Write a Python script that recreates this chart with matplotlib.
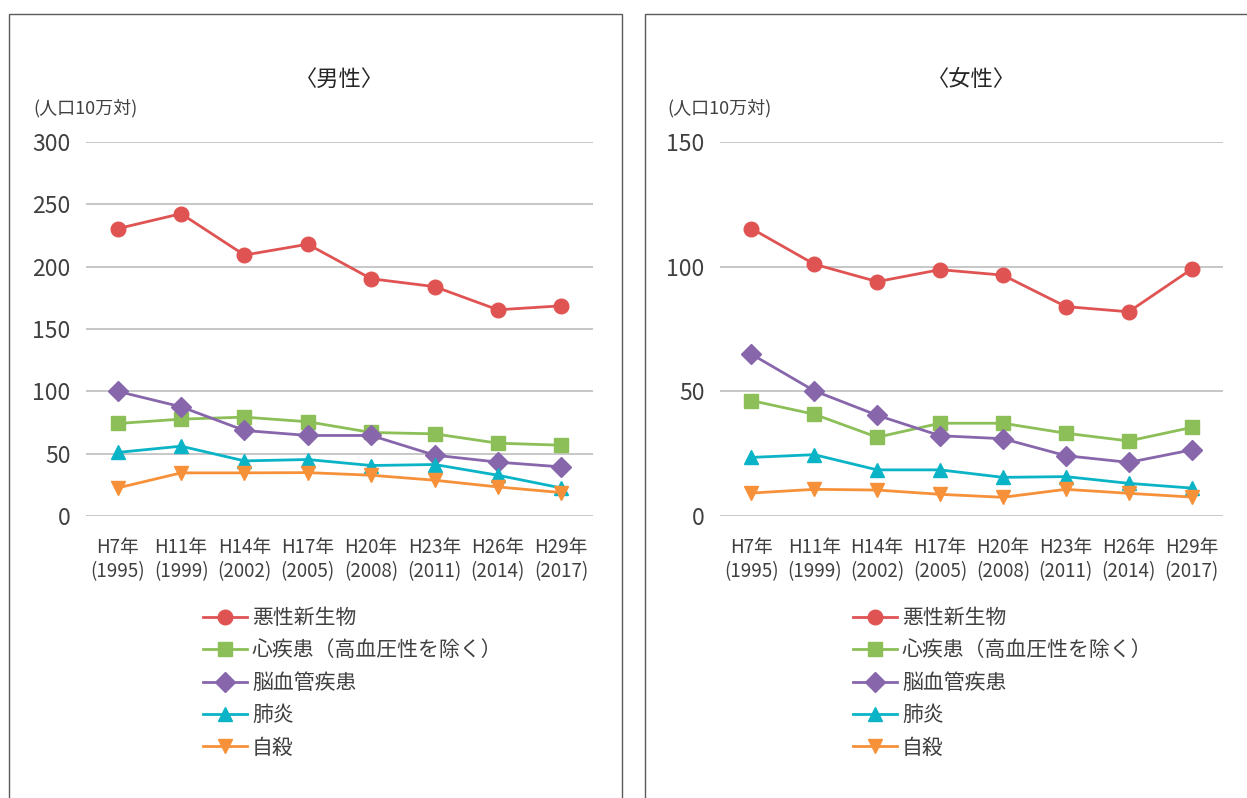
import matplotlib; matplotlib.use("Agg")
import matplotlib.pyplot as plt
from matplotlib.patches import Rectangle

plt.rcParams['font.family'] = ['Noto Sans CJK JP', 'DejaVu Sans']

# ---- data ----
years = ["H7年\n(1995)", "H11年\n(1999)", "H14年\n(2002)", "H17年\n(2005)",
         "H20年\n(2008)", "H23年\n(2011)", "H26年\n(2014)", "H29年\n(2017)"]
causes = ["悪性新生物", "心疾患（高血圧性を除く）", "脳血管疾患", "肺炎", "自殺"]

male_cancer = [230.5, 242.5, 209.3, 218.0, 190.3, 184.0, 165.4, 168.6]
male_heart = [74.2, 77.7, 79.3, 75.6, 67.0, 65.9, 58.4, 56.8]
male_stroke = [100.0, 87.6, 68.6, 64.6, 64.6, 48.8, 43.2, 39.4]
male_pneu = [51.0, 56.0, 44.2, 45.3, 40.5, 41.3, 32.7, 22.5]
male_suicide = [22.5, 34.6, 34.6, 34.8, 32.7, 28.7, 23.3, 18.8]

female_cancer = [115.3, 101.0, 94.0, 98.8, 96.6, 84.0, 81.9, 99.0]
female_heart = [46.3, 40.8, 31.6, 37.2, 37.2, 33.2, 30.1, 35.5]
female_stroke = [64.9, 50.2, 40.4, 32.2, 31.0, 24.2, 21.5, 26.5]
female_pneu = [23.5, 24.6, 18.5, 18.5, 15.5, 15.8, 13.1, 11.2]
female_suicide = [9.2, 10.7, 10.4, 8.7, 7.5, 10.7, 9.1, 7.6]

male = [male_cancer, male_heart, male_stroke, male_pneu, male_suicide]
female = [female_cancer, female_heart, female_stroke, female_pneu, female_suicide]

colors = ["#E05353", "#8CBF58", "#8766AB", "#0AB4C6", "#F6913A"]
markers = ["o", "s", "D", "^", "v"]
msizes = [10.5, 10, 10.5, 10.5, 10.5]

W, H = 1247, 798
fig = plt.figure(figsize=(W / 100, H / 100), dpi=100)

def fx(px): return px / W
def fy(py): return 1 - py / H

# panel frames
for x0, x1 in [(9, 622), (645, 1300)]:
    fig.patches.append(Rectangle((fx(x0), -0.1), fx(x1) - fx(x0), fy(14) + 0.1,
                                 transform=fig.transFigure, fill=False,
                                 ec="#5a5a5a", lw=1.0))

def panel(left_px, right_px, series, ymax, title, leg_x):
    ax = fig.add_axes([fx(left_px), fy(516), fx(right_px) - fx(left_px), (516 - 142) / H])
    x = list(range(len(years)))
    for vals, c, m, ms, lab in zip(series, colors, markers, msizes, causes):
        ax.plot(x, vals, color=c, marker=m, markersize=ms, lw=2.0, label=lab,
                clip_on=False, zorder=3)
    ax.set_xlim(-0.5, len(years) - 0.5)
    ax.set_ylim(0, ymax)
    ax.set_yticks(range(0, ymax + 1, 50))
    ax.set_xticks(x)
    ax.set_xticklabels(years, fontsize=13.5, color="#404040", linespacing=1.2)
    ax.tick_params(axis="y", length=0, pad=11, labelsize=16.5, labelcolor="#404040")
    ax.tick_params(axis="x", length=0, pad=15)
    ax.grid(axis="y", color="#BDBDBD", lw=1.2)
    ax.set_axisbelow(True)
    for s in ax.spines.values():
        s.set_visible(False)
    cx = (left_px + right_px) / 2
    fig.text(fx(cx), fy(79), title, ha="center", va="center", fontsize=16, color="#262626")
    fig.text(fx(left_px - 53), fy(108), "(人口10万対)", ha="left", va="center",
             fontsize=13, color="#404040")
    h, l = ax.get_legend_handles_labels()
    fig.legend(h, l, loc="upper left", bbox_to_anchor=(fx(leg_x), fy(607)),
               bbox_transform=fig.transFigure, frameon=False, fontsize=15,
               handlelength=2.1, handletextpad=0.25, labelspacing=0.5,
               borderpad=0, borderaxespad=0, labelcolor="#404040")
    return ax

panel(86, 593, male, 300, "〈男性〉", 203)
panel(720, 1223, female, 150, "〈女性〉", 853)

fig.savefig("out.png", dpi=100)
